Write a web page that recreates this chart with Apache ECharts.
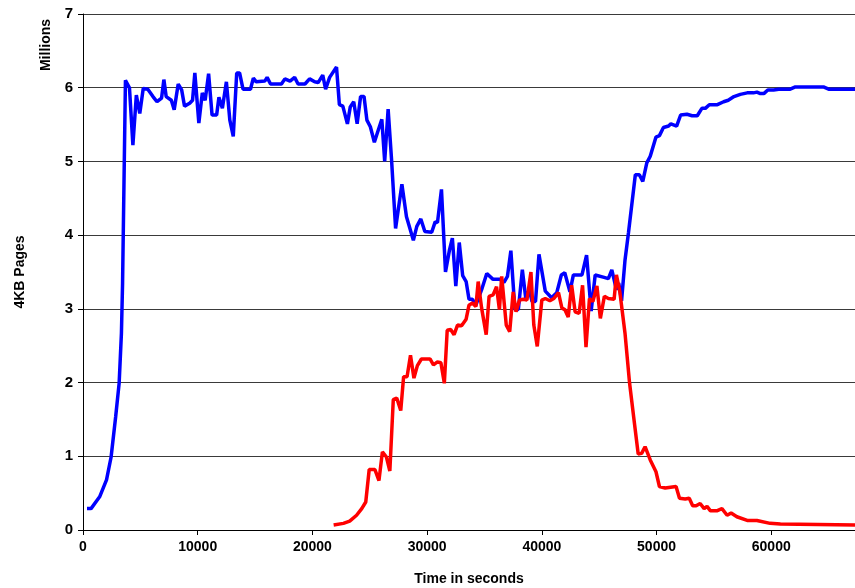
<!DOCTYPE html>
<html>
<head>
<meta charset="utf-8">
<script src="https://cdn.jsdelivr.net/npm/echarts@6/dist/echarts.min.js"></script>
<style>
html,body{margin:0;padding:0;background:#fff;}
#chart{width:855px;height:588px;}
</style>
</head>
<body>
<div id="chart"></div>
<script>
// Time (seconds) and value (millions of 4KB pages) for each series
var blueTime = [350,700,1450,2050,2450,2850,3150,3350,3450,3700,4050,4350,4650,4950,5250,5650,6100,6450,6850,7050,7250,7700,7950,8300,8600,8850,9300,9550,9750,10100,10400,10650,10950,11250,11650,11850,12150,12500,12800,13100,13400,13650,13950,14600,14850,15100,15850,16050,16350,17300,17600,18050,18450,18750,19350,19750,20200,20500,20900,21150,21500,22100,22350,22650,23050,23300,23600,23900,24200,24500,24750,25050,25400,25750,26050,26300,26600,26900,27250,27800,28200,28800,29100,29450,29800,30400,30700,30900,31250,31600,31950,32200,32500,32800,33100,33400,33650,33950,34250,34750,35200,35750,36350,36700,37000,37300,37650,37950,38300,38600,38900,39150,39450,39750,40300,40850,41300,41700,42000,42450,42750,43500,43900,44300,44650,45350,45800,46100,46500,46700,46950,47250,47550,48150,48500,48800,49150,49450,49950,50250,50600,51050,51250,51750,52100,52650,53100,53550,53950,54250,54600,55300,55850,56250,56750,57300,57900,58450,58750,59050,59350,59700,60200,60650,61650,62100,64550,65000,67300];
var blueValue = [0.29,0.29,0.45,0.68,0.99,1.54,1.99,2.67,3.35,6.10,6.00,5.22,5.90,5.65,5.99,5.98,5.88,5.81,5.86,6.11,5.88,5.83,5.70,6.05,5.97,5.75,5.79,5.83,6.20,5.52,5.93,5.83,6.19,5.63,5.63,5.87,5.72,6.08,5.56,5.34,6.20,6.20,5.98,5.98,6.13,6.08,6.09,6.14,6.05,6.05,6.12,6.09,6.14,6.05,6.05,6.12,6.08,6.07,6.17,5.98,6.14,6.28,5.77,5.75,5.51,5.74,5.81,5.51,5.88,5.88,5.56,5.47,5.26,5.43,5.57,5.00,5.71,5.02,4.09,4.69,4.25,3.93,4.12,4.22,4.05,4.04,4.18,4.17,4.62,3.50,3.80,3.96,3.31,3.90,3.45,3.37,3.13,3.13,3.05,3.26,3.48,3.40,3.40,3.36,3.44,3.79,2.99,2.99,3.53,3.14,3.26,3.10,3.10,3.74,3.24,3.15,3.22,3.46,3.49,3.23,3.46,3.46,3.73,2.97,3.46,3.43,3.41,3.53,3.26,3.35,3.11,3.66,4.03,4.82,4.82,4.73,4.98,5.07,5.33,5.35,5.46,5.48,5.51,5.48,5.63,5.64,5.62,5.62,5.72,5.72,5.77,5.77,5.81,5.83,5.88,5.91,5.93,5.93,5.94,5.92,5.92,5.97,5.97,5.98,5.98,6.01,6.01,5.98,5.98];

var redTime = [21850,22700,23250,23850,24300,24650,24950,25450,25800,26100,26450,26750,27050,27350,27700,27950,28250,28550,28850,29150,29500,30250,30550,30900,31200,31500,31750,32050,32350,32650,33000,33400,33650,33950,34250,34450,34750,35150,35400,35750,36050,36300,36500,36900,37200,37500,37750,38050,38400,38700,39050,39300,39600,40000,40300,40700,41050,41450,41750,42000,42300,42600,42900,43250,43550,43850,44150,44450,44800,45100,45450,45800,46300,46500,46800,47250,47650,48000,48400,48700,49000,49450,49950,50250,50750,51700,52000,52500,52850,53150,53450,53800,54150,54400,54700,55250,55700,56150,56500,57000,57900,58750,59900,60800,67300];
var redValue = [0.068,0.09,0.12,0.20,0.29,0.38,0.82,0.82,0.67,1.06,0.99,0.80,1.77,1.79,1.62,2.08,2.08,2.37,2.06,2.23,2.32,2.32,2.24,2.28,2.27,1.99,2.71,2.72,2.65,2.78,2.77,2.86,3.05,3.08,3.03,3.37,3.01,2.65,3.17,3.19,3.30,2.99,3.44,2.78,2.69,3.23,2.96,3.12,3.13,3.12,3.50,2.78,2.49,3.12,3.14,3.11,3.14,3.22,3.01,2.99,2.89,3.32,2.96,2.94,3.32,2.48,3.14,3.10,3.31,2.87,3.17,3.14,3.13,3.46,3.23,2.67,1.99,1.54,1.03,1.04,1.13,0.95,0.79,0.59,0.57,0.59,0.43,0.42,0.43,0.33,0.33,0.36,0.29,0.32,0.26,0.26,0.29,0.20,0.23,0.18,0.13,0.13,0.09,0.08,0.068];

var xTitle = 'Time in seconds';
var yTitle = '4KB Pages';
var yUnit = 'Millions';

function pairs(t, v) { return t.map(function (x, i) { return [x, v[i]]; }); }

var FONT = '"Liberation Sans", Arial, sans-serif';
var chart = echarts.init(document.getElementById('chart'), null, {renderer: 'canvas'});
chart.setOption({
  animation: false,
  backgroundColor: '#ffffff',
  grid: {left: 83, right: 0, top: 14, bottom: 58, containLabel: false, outerBoundsMode: 'none'},
  xAxis: {
    type: 'value', min: 0, max: 67300, interval: 10000,
    name: xTitle, nameLocation: 'middle', nameGap: 42,
    nameTextStyle: {fontFamily: FONT, fontWeight: 'bold', fontSize: 14, color: '#000'},
    axisLine: {show: true, lineStyle: {color: '#000', width: 1}},
    axisTick: {show: true, length: 5, inside: false, lineStyle: {color: '#000'}},
    axisLabel: {fontFamily: FONT, fontWeight: 'bold', fontSize: 14, color: '#000', margin: 10, showMaxLabel: false,
      formatter: function (v) { return String(v); }},
    splitLine: {show: false}
  },
  yAxis: {
    type: 'value', min: 0, max: 7, interval: 1,
    name: yTitle, nameLocation: 'middle', nameGap: 56, nameRotate: 90,
    nameTextStyle: {fontFamily: FONT, fontWeight: 'bold', fontSize: 14, color: '#000'},
    axisLine: {show: true, lineStyle: {color: '#000', width: 1}},
    axisTick: {show: true, length: 5, inside: false, lineStyle: {color: '#000'}},
    axisLabel: {fontFamily: FONT, fontWeight: 'bold', fontSize: 15, color: '#000', margin: 10},
    splitLine: {show: true, lineStyle: {color: '#3a3a3a', width: 1}}
  },
  graphic: [{
    type: 'text', x: 46, y: 45, rotation: Math.PI / 2,
    style: {text: yUnit, fontFamily: FONT, fontWeight: 'bold', fontSize: 14, fill: '#000', align: 'center', verticalAlign: 'middle'}
  }],
  series: [
    {type: 'line', name: 'blue', data: pairs(blueTime, blueValue), symbol: 'none', smooth: false,
     lineStyle: {color: '#0000ff', width: 3.5}, itemStyle: {color: '#0000ff'}},
    {type: 'line', name: 'red', data: pairs(redTime, redValue), symbol: 'none', smooth: false,
     lineStyle: {color: '#ff0000', width: 3.5}, itemStyle: {color: '#ff0000'}}
  ]
});
</script>
</body>
</html>
